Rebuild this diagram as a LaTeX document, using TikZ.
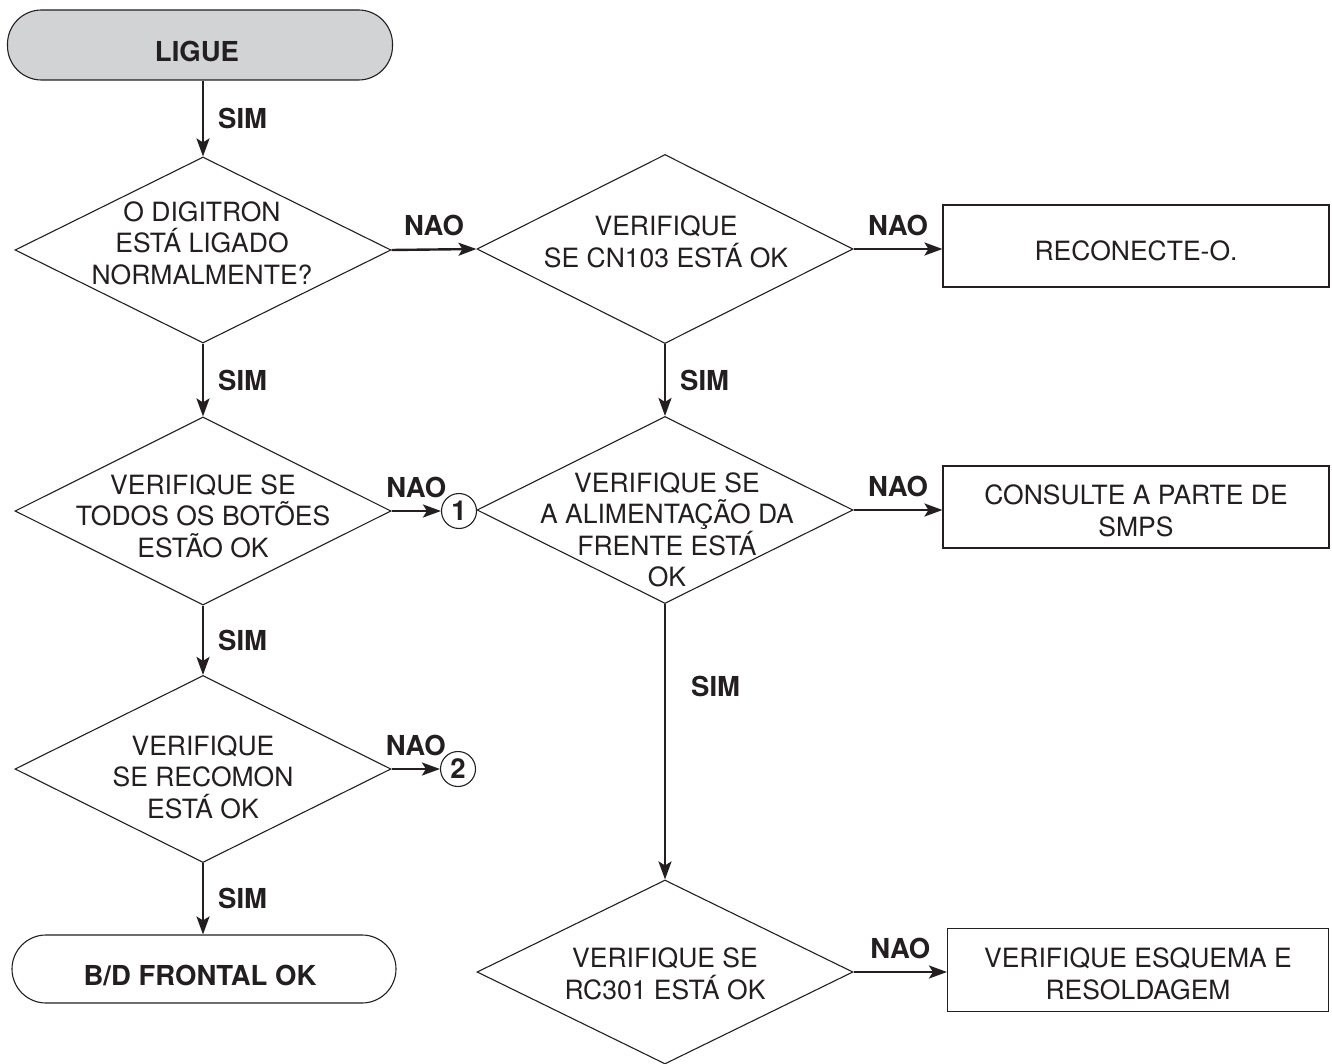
\documentclass[tikz,border=0pt]{standalone}
\usepackage{fontspec}
\setmainfont{TeX Gyre Heros}
\usetikzlibrary{arrows.meta,shapes.geometric}
\definecolor{ink}{RGB}{35,31,32}
\definecolor{termgray}{RGB}{209,211,212}
\begin{document}
\begin{tikzpicture}[x=1pt,y=-1pt,
  every node/.style={font=\fontsize{26.5}{31.5}\selectfont, text=ink},
  boldfont/.style={font=\bfseries\fontsize{27.5}{31.5}\selectfont},
  outline/.style={draw=ink, line width=1.1pt},
  term/.style={outline, rectangle, rounded corners=34pt, inner sep=0pt},
  decision/.style={outline, diamond, inner sep=0pt},
  box/.style={outline, rectangle, inner sep=0pt},
  joint/.style={outline, circle, minimum size=35pt, inner sep=0pt, boldfont},
  txt/.style={align=center, inner sep=0pt},
  arr/.style={draw=ink, line width=2.4pt,
    -{Stealth[length=18pt,width=13pt,inset=4pt]}},
  yes/.style={right=14pt, inner sep=0pt, boldfont},
  no/.style={above=12pt, inner sep=0pt, boldfont},
]
\useasboundingbox (0,0) rectangle (1332,1064);

% terminators
\node[term, fill=termgray, minimum width=385pt, minimum height=70pt] (start) at (200,45) {};
\node[txt, boldfont] (startT) at (197,51) {LIGUE};
\node[term, minimum width=384pt, minimum height=68pt] (finish) at (204,969) {};
\node[txt, boldfont] (finishT) at (200,975) {B/D FRONTAL OK};

% decisions, left column
\node[decision, minimum width=376pt, minimum height=186pt] (d1) at (203,250) {};
\node[txt] (d1T) at (202,243) {O DIGITRON\\ESTÁ LIGADO\\NORMALMENTE?};
\node[decision, minimum width=376pt, minimum height=188pt] (d3) at (203,511) {};
\node[txt] (d3T) at (203,516) {VERIFIQUE SE\\TODOS OS BOTÕES\\ESTÃO OK};
\node[decision, minimum width=376pt, minimum height=187pt] (d5) at (203,769) {};
\node[txt] (d5T) at (203,777) {VERIFIQUE\\SE RECOMON\\ESTÁ OK};

% decisions, right column
\node[decision, minimum width=376pt, minimum height=189pt] (d2) at (665,249) {};
\node[txt] (d2T) at (666,242) {VERIFIQUE\\SE CN103 ESTÁ OK};
\node[decision, minimum width=376pt, minimum height=187pt] (d4) at (665,510) {};
\node[txt] (d4T) at (667,530) {VERIFIQUE SE\\A ALIMENTAÇÃO DA\\FRENTE ESTÁ\\OK};
\node[decision, minimum width=376pt, minimum height=184pt] (d6) at (665,972) {};
\node[txt] (d6T) at (665,974) {VERIFIQUE SE\\RC301 ESTÁ OK};

% action boxes
\node[box, minimum width=386pt, minimum height=82pt] (b1) at (1136,246) {};
\node[txt] (b1T) at (1136,251) {RECONECTE-O.};
\node[box, minimum width=386pt, minimum height=82pt] (b2) at (1136,507) {};
\node[txt] (b2T) at (1136,511) {CONSULTE A PARTE DE\\SMPS};
\node[box, minimum width=381pt, minimum height=83pt] (b3) at (1138,970) {};
\node[txt] (b3T) at (1138,974) {VERIFIQUE ESQUEMA E\\RESOLDAGEM};

% off-page connectors
\node[joint] (c1) at (459,511) {1};
\node[joint] (c2) at (458,769) {2};

% flow, left column
\draw[arr] (start.south -| d1.north) -- node[yes] {SIM} (d1.north);
\draw[arr] (d1.south) -- node[yes] {SIM} (d3.north);
\draw[arr] (d3.south) -- node[yes] {SIM} (d5.north);
\draw[arr] (d5.south) -- node[yes] {SIM} (finish.north -| d5.south);

% flow, right column
\draw[arr] (d2.south) -- node[yes] {SIM} (d4.north);
\draw[arr] (d4.south) -- node[yes, pos=0.3, right=11pt] {SIM} (d6.north);

% NAO branches
\draw[arr] (d1.east) -- node[no] {NAO} (d2.west);
\draw[arr] (d2.east) -- node[no] {NAO} (d2.east -| b1.west);
\draw[arr] (d3.east) -- node[no] {NAO} (c1.west);
\draw[arr] (d4.east) -- node[no] {NAO} (d4.east -| b2.west);
\draw[arr] (d5.east) -- node[no] {NAO} (c2.west);
\draw[arr] (d6.east) -- node[no] {NAO} (d6.east -| b3.west);
\end{tikzpicture}
\end{document}
